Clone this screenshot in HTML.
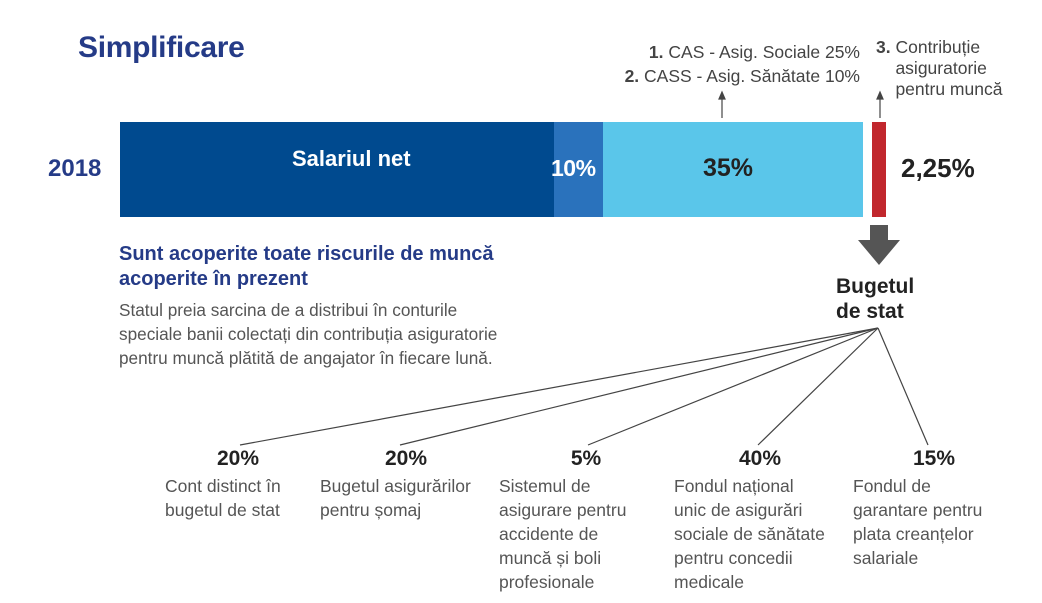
<!DOCTYPE html>
<html><head><meta charset="utf-8"><style>
body{margin:0;width:1042px;height:603px;background:#fff;position:relative;overflow:hidden;font-family:"Liberation Sans",sans-serif}
.a{position:absolute;white-space:nowrap}
.b{font-weight:bold}
.g{color:#555;font-size:17.5px;line-height:24px}
.p{font-weight:bold;font-size:21px;color:#222;text-align:center;width:80px}
</style></head><body>
<div class="a b" style="left:78px;top:31px;font-size:30px;color:#253b87;letter-spacing:-0.3px">Simplificare</div>
<div class="a" style="left:500px;top:40px;font-size:17.5px;color:#444;line-height:24px;text-align:right;width:360px"><b>1.</b> CAS - Asig. Sociale 25%<br><b>2.</b> CASS - Asig. Sănătate 10%</div>
<div class="a" style="left:876px;top:37px;font-size:17.5px;color:#444;line-height:21px"><b>3.</b> Contribuție<br>&nbsp;&nbsp;&nbsp;&nbsp;asiguratorie<br>&nbsp;&nbsp;&nbsp;&nbsp;pentru muncă</div>
<svg class="a" style="left:0;top:0" width="1042" height="603">
<rect x="120" y="122" width="434" height="95" fill="#004a8f"/>
<rect x="554" y="122" width="49" height="95" fill="#2a72bc"/>
<rect x="603" y="122" width="260" height="95" fill="#5ac6ea"/>
<rect x="872" y="122" width="14" height="95" fill="#c1272d"/>
<g stroke="#444" stroke-width="1.2" fill="#444">
<line x1="722" y1="118" x2="722" y2="96"/><path d="M719,99 L722,92 L725,99Z"/>
<line x1="880" y1="118" x2="880" y2="96"/><path d="M877,99 L880,92 L883,99Z"/>
<line x1="878" y1="328" x2="240" y2="445"/>
<line x1="878" y1="328" x2="400" y2="445"/>
<line x1="878" y1="328" x2="588" y2="445"/>
<line x1="878" y1="328" x2="758" y2="445"/>
<line x1="878" y1="328" x2="928" y2="445"/>
</g>
<path d="M870,225 H888 V240 H900 L879,265 L858,240 H870Z" fill="#555"/>
</svg>
<div class="a b" style="left:48px;top:155px;font-size:24px;color:#253b87">2018</div>
<div class="a b" style="left:292px;top:146px;font-size:22px;color:#fff">Salariul net</div>
<div class="a b" style="left:551px;top:155px;font-size:23px;color:#fff;letter-spacing:-0.5px">10%</div>
<div class="a b" style="left:703px;top:154px;font-size:25px;color:#222">35%</div>
<div class="a b" style="left:901px;top:153px;font-size:26px;color:#222">2,25%</div>
<div class="a b" style="left:119px;top:242px;font-size:20px;color:#253b87;line-height:25px">Sunt acoperite toate riscurile de muncă<br>acoperite în prezent</div>
<div class="a" style="left:119px;top:298px;font-size:17.2px;color:#555;line-height:24px">Statul preia sarcina de a distribui în conturile<br>speciale banii colectați din contribuția asiguratorie<br>pentru muncă plătită de angajator în fiecare lună.</div>
<div class="a b" style="left:836px;top:274px;font-size:21px;color:#222;line-height:25px">Bugetul<br>de stat</div>
<div class="a p" style="left:198px;top:447px">20%</div>
<div class="a p" style="left:366px;top:447px">20%</div>
<div class="a p" style="left:546px;top:447px">5%</div>
<div class="a p" style="left:720px;top:447px">40%</div>
<div class="a p" style="left:894px;top:447px">15%</div>
<div class="a g" style="left:165px;top:474px">Cont distinct în<br>bugetul de stat</div>
<div class="a g" style="left:320px;top:474px">Bugetul asigurărilor<br>pentru șomaj</div>
<div class="a g" style="left:499px;top:474px">Sistemul de<br>asigurare pentru<br>accidente de<br>muncă și boli<br>profesionale</div>
<div class="a g" style="left:674px;top:474px">Fondul național<br>unic de asigurări<br>sociale de sănătate<br>pentru concedii<br>medicale</div>
<div class="a g" style="left:853px;top:474px">Fondul de<br>garantare pentru<br>plata creanțelor<br>salariale</div>
</body></html>
